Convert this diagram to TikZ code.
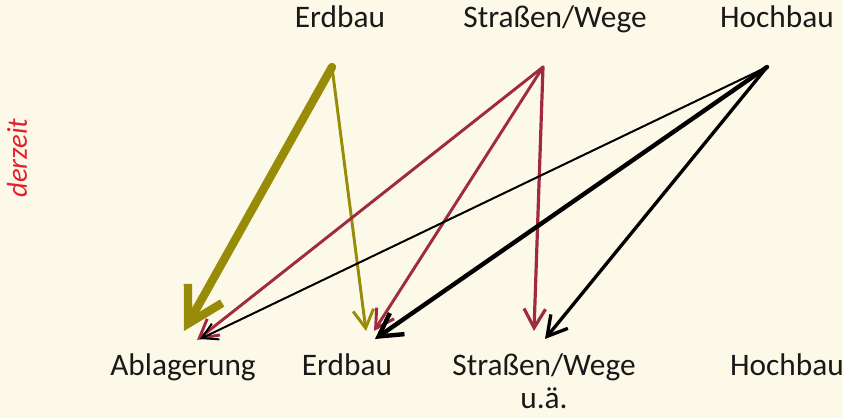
\documentclass[tikz,border=0pt]{standalone}
\usepackage{fontspec}
\setmainfont{Carlito}
\usetikzlibrary{arrows.meta}
\definecolor{paper}{HTML}{FDF9E8}
\definecolor{olivebrown}{HTML}{978B08}
\definecolor{wine}{HTML}{A02A40}
\definecolor{labelred}{HTML}{E3202C}
\tikzset{
  lbl/.style={font=\fontsize{23.5}{27}\selectfont, text=black!90, anchor=base, inner sep=0pt},
  flow/.style={-{Straight Barb[length=#1*3+7pt, width=#1*3.4+8pt, line width=#1*1]}},
  olivearrow/.style={draw=olivebrown, line width=#1, flow=#1, line cap=round},
  winearrow/.style={draw=wine, line width=#1, flow=#1, line cap=round},
  blackarrow/.style={draw=black, line width=#1, flow=#1, line cap=round}
}
\begin{document}
\begin{tikzpicture}[x=0.75pt,y=-0.75pt]
  \fill[paper] (0,0) rectangle (843,418);
  \useasboundingbox (0,0) rectangle (843,418);

  % column headings (sources)
  \node[lbl] (tErd) at (340,27) {Erdbau};
  \node[lbl] (tStr) at (555,27) {Straßen/Wege};
  \node[lbl] (tHoch) at (777,27) {Hochbau};

  % targets
  \node[lbl] (bAbl) at (183,375) {Ablagerung};
  \node[lbl] (bErd) at (347,375) {Erdbau};
  \node[lbl] (bStr) at (544,375) {Straßen/Wege};
  \node[lbl] (bStr2) at (544,408) {u.ä.};
  \node[lbl] (bHoch) at (787,375) {Hochbau};

  % side label
  \node[font=\fontsize{21.5}{24}\selectfont\itshape, text=labelred, rotate=90, inner sep=0pt]
    (derzeit) at (17,158) {derzeit};

  % arrow start points
  \coordinate (sErd) at (332,67);
  \coordinate (sStr) at (543,67);
  \coordinate (sHoch) at (767,67);

  % arrow end points
  \coordinate (eErdAbl) at (184,331);
  \coordinate (eErdErd) at (366,331);
  \coordinate (eStrAbl) at (197,340);
  \coordinate (eStrErd) at (374,331);
  \coordinate (eStrStr) at (534,331);
  \coordinate (eHochAbl) at (200,339);
  \coordinate (eHochErd) at (375,339);
  \coordinate (eHochStr) at (545,339);

  % Erdbau flows
  \draw[olivearrow=6.3pt] (sErd) -- (eErdAbl);
  \draw[olivearrow=2.2pt] (sErd) -- (eErdErd);

  % Straßen/Wege flows
  \draw[winearrow=2.2pt] (sStr) -- (eStrAbl);
  \draw[winearrow=2.2pt] (sStr) -- (eStrErd);
  \draw[winearrow=2.4pt] (sStr) -- (eStrStr);

  % Hochbau flows
  \draw[blackarrow=1.5pt] (sHoch) -- (eHochAbl);
  \draw[blackarrow=3.3pt] (sHoch) -- (eHochErd);
  \draw[blackarrow=2.5pt] (sHoch) -- (eHochStr);
\end{tikzpicture}
\end{document}
